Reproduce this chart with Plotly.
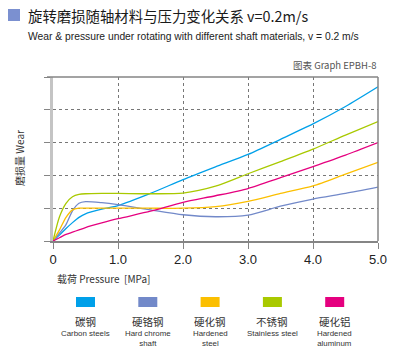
import plotly.graph_objects as go

# ---- data ----
pressure = [0, 0.1, 0.2, 0.3, 0.4, 0.5, 0.75, 1.0, 1.5, 2.0, 2.5, 3.0, 3.5, 4.0, 4.5, 5.0]
carbon_steel = [0, 0.18, 0.38, 0.56, 0.72, 0.83, 0.97, 1.08, 1.45, 1.87, 2.26, 2.64, 3.10, 3.57, 4.10, 4.70]
hard_chrome = [0, 0.24, 0.50, 0.92, 1.15, 1.20, 1.17, 1.11, 0.95, 0.80, 0.74, 0.79, 1.06, 1.28, 1.45, 1.64]
hardened_steel = [0, 0.34, 0.72, 0.95, 1.00, 1.00, 1.00, 1.00, 1.00, 1.00, 1.05, 1.21, 1.45, 1.68, 2.04, 2.40]
stainless_steel = [0, 0.74, 1.15, 1.35, 1.42, 1.44, 1.45, 1.45, 1.44, 1.46, 1.67, 2.05, 2.42, 2.80, 3.23, 3.64]
hardened_aluminum = [0, 0.10, 0.20, 0.27, 0.34, 0.41, 0.55, 0.68, 0.91, 1.18, 1.38, 1.60, 1.93, 2.27, 2.62, 3.00]

series_values = [carbon_steel, hard_chrome, hardened_steel, stainless_steel, hardened_aluminum]
series_cn = ["碳钢", "硬铬钢", "硬化钢", "不锈钢", "硬化铝"]
series_en = ["Carbon steels", "Hard chrome<br>shaft", "Hardened<br>steel", "Stainless steel", "Hardened<br>aluminum"]
series_colors = ["#00a0e9", "#7289c9", "#fbbf00", "#a9c900", "#e5007f"]

x_tickvals = [0, 1, 2, 3, 4, 5]
x_ticktext = ["0", "1.0", "2.0", "3.0", "4.0", "5.0"]

title_cn = "旋转磨损随轴材料与压力变化关系 v=0.2m/s"
subtitle = "Wear & pressure under rotating with different shaft materials, v = 0.2 m/s"
graph_id = "图表 Graph EPBH-8"
x_label = "载荷 Pressure  [MPa]"
y_label = "磨损量 Wear"

# ---- layout geometry (pixels) ----
W, H = 400, 360
PLOT_L, PLOT_R, PLOT_T, PLOT_B = 53, 378, 77, 241
L, T = PLOT_L, PLOT_T
R, B = W - PLOT_R, H - PLOT_B
PW, PH = PLOT_R - PLOT_L, PLOT_B - PLOT_T


def px(x):
    return (x - PLOT_L) / PW


def py(y):
    return (PLOT_B - y) / PH


FONT = "Liberation Sans, Arial, Noto Sans CJK SC"
CJK = "Noto Sans CJK SC, Liberation Sans"

fig = go.Figure()
for vals, name, col in zip(series_values, series_cn, series_colors):
    fig.add_trace(go.Scatter(
        x=pressure, y=vals, mode="lines", name=name,
        line=dict(color=col, width=1.3, shape="spline", smoothing=0.7),
        hoverinfo="skip", showlegend=False,
    ))

shapes = [
    dict(type="line", xref="paper", yref="paper", x0=px(47), x1=1, y0=1, y1=1,
         line=dict(color="#858585", width=1.5)),
    dict(type="line", xref="paper", yref="paper", x0=1, x1=1, y0=0, y1=1,
         line=dict(color="#858585", width=1.5)),
    dict(type="rect", xref="paper", yref="paper", x0=px(8), x1=px(20), y0=py(21), y1=py(9),
         fillcolor="#7b90d0", line=dict(width=0)),
]

annotations = [
    dict(text=title_cn, xref="paper", yref="paper", x=px(26), y=py(15), xanchor="left", yanchor="middle",
         showarrow=False, font=dict(family=CJK, size=14.4, color="#1a1a1a")),
    dict(text=subtitle, xref="paper", yref="paper", x=px(26), y=py(36), xanchor="left", yanchor="middle",
         showarrow=False, font=dict(family=FONT, size=10.3, color="#222")),
    dict(text=graph_id, xref="paper", yref="paper", x=px(379), y=py(65), xanchor="right", yanchor="middle",
         showarrow=False, font=dict(family=CJK, size=9.5, color="#555")),
    dict(text=x_label, xref="paper", yref="paper", x=px(55), y=py(278), xanchor="left", yanchor="middle",
         showarrow=False, font=dict(family=CJK, size=10, color="#333")),
    dict(text=y_label, xref="paper", yref="paper", x=px(19), y=py(158), xanchor="center", yanchor="middle",
         textangle=-90, showarrow=False, font=dict(family=CJK, size=10, color="#333")),
]

leg_x0, leg_step = 85.5, 62.3
for i, (cn, en, col) in enumerate(zip(series_cn, series_en, series_colors)):
    cx = leg_x0 + i * leg_step
    shapes.append(dict(type="rect", xref="paper", yref="paper",
                       x0=px(cx - 9.5), x1=px(cx + 9.5), y0=py(307), y1=py(297),
                       fillcolor=col, line=dict(width=0)))
    annotations.append(dict(text=cn, xref="paper", yref="paper", x=px(cx), y=py(321),
                            xanchor="center", yanchor="middle", showarrow=False,
                            font=dict(family=CJK, size=10.5, color="#333")))
    annotations.append(dict(text=en, xref="paper", yref="paper", x=px(cx), y=py(327),
                            xanchor="center", yanchor="top", showarrow=False,
                            font=dict(family=FONT, size=7.9, color="#333")))

fig.update_layout(
    width=W, height=H,
    margin=dict(l=L, r=R, t=T, b=B, pad=0),
    paper_bgcolor="white", plot_bgcolor="white",
    shapes=shapes, annotations=annotations,
    xaxis=dict(
        range=[0, 5], tickvals=x_tickvals, ticktext=x_ticktext,
        showline=True, linecolor="#858585", linewidth=1.5,
        ticks="outside", ticklen=6, tickcolor="#858585", tickwidth=1,
        showgrid=True, gridcolor="#777", griddash="dot", gridwidth=1,
        zeroline=False, fixedrange=True,
        tickfont=dict(family=FONT, size=13, color="#222"),
    ),
    yaxis=dict(
        range=[0, 5], dtick=1, tick0=0,
        showline=True, linecolor="#c4c4c4", linewidth=3,
        ticks="outside", ticklen=6, tickcolor="#858585", tickwidth=1,
        showticklabels=False,
        showgrid=True, gridcolor="#777", griddash="dot", gridwidth=1,
        zeroline=False, fixedrange=True,
    ),
)

fig.write_html("out.html", config={"displayModeBar": False},
               post_script="document.body.style.margin='0';")
